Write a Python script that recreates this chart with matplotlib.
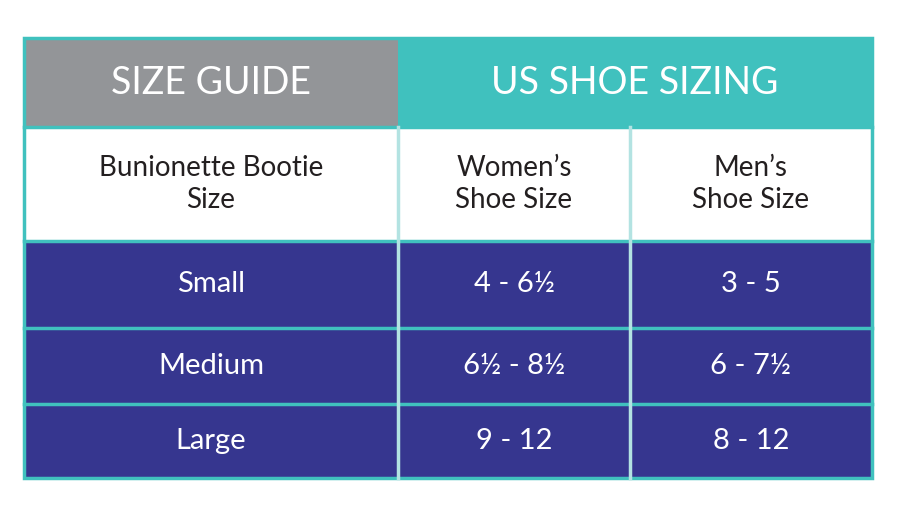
import matplotlib
matplotlib.use("Agg")
import matplotlib.pyplot as plt
from matplotlib.patches import Rectangle

title_left = "SIZE GUIDE"
title_right = "US SHOE SIZING"
col_headers = ["Bunionette Bootie\nSize", "Women’s\nShoe Size", "Men’s\nShoe Size"]
sizes = ["Small", "Medium", "Large"]
womens = ["4 - 6½", "6½ - 8½", "9 - 12"]
mens = ["3 - 5", "6 - 7½", "8 - 12"]

GRAY = "#939598"; TEAL = "#40C1BE"; NAVY = "#36368F"; LIGHT = "#B3E3E2"
plt.rcParams['font.family'] = ['Lato', 'DejaVu Sans']

fig = plt.figure(figsize=(9, 5.12), dpi=100)
ax = fig.add_axes([0, 0, 1, 1])
ax.set_xlim(0, 900); ax.set_ylim(512, 0); ax.axis('off')

xs = [24, 398, 630, 872]
ys = [38, 127, 241, 328, 404, 478]

ax.add_patch(Rectangle((xs[0], ys[0]), xs[1]-xs[0], ys[1]-ys[0], color=GRAY, lw=0))
ax.add_patch(Rectangle((xs[1], ys[0]), xs[3]-xs[1], ys[1]-ys[0], color=TEAL, lw=0))
ax.add_patch(Rectangle((xs[0], ys[1]), xs[3]-xs[0], ys[2]-ys[1], color="white", lw=0))
ax.add_patch(Rectangle((xs[0], ys[2]), xs[3]-xs[0], ys[5]-ys[2], color=NAVY, lw=0))

ax.text((xs[0]+xs[1])/2, (ys[0]+ys[1])/2, title_left, color="white", fontsize=27, ha='center', va='center')
ax.text((xs[1]+xs[3])/2, (ys[0]+ys[1])/2, title_right, color="white", fontsize=27, ha='center', va='center')

for i, h in enumerate(col_headers):
    ax.text((xs[i]+xs[i+1])/2, (ys[1]+ys[2])/2, h, color="#231F20", fontsize=20,
            ha='center', va='center', linespacing=1.25)

for r in range(3):
    cy = (ys[r+2]+ys[r+3])/2
    for c, v in enumerate([sizes[r], womens[r], mens[r]]):
        ax.text((xs[c]+xs[c+1])/2, cy, v, color="white", fontsize=21, ha='center', va='center')

# grid lines
for y in ys[1:5]:
    ax.plot([xs[0], xs[3]], [y, y], color=TEAL, lw=2.5)
ax.plot([xs[1], xs[1]], [ys[1], ys[5]], color=LIGHT, lw=2.5)
ax.plot([xs[2], xs[2]], [ys[1], ys[5]], color=LIGHT, lw=2.5)
ax.add_patch(Rectangle((xs[0], ys[0]), xs[3]-xs[0], ys[5]-ys[0], fill=False, ec=TEAL, lw=2.5))

fig.savefig("out.png", dpi=100)
